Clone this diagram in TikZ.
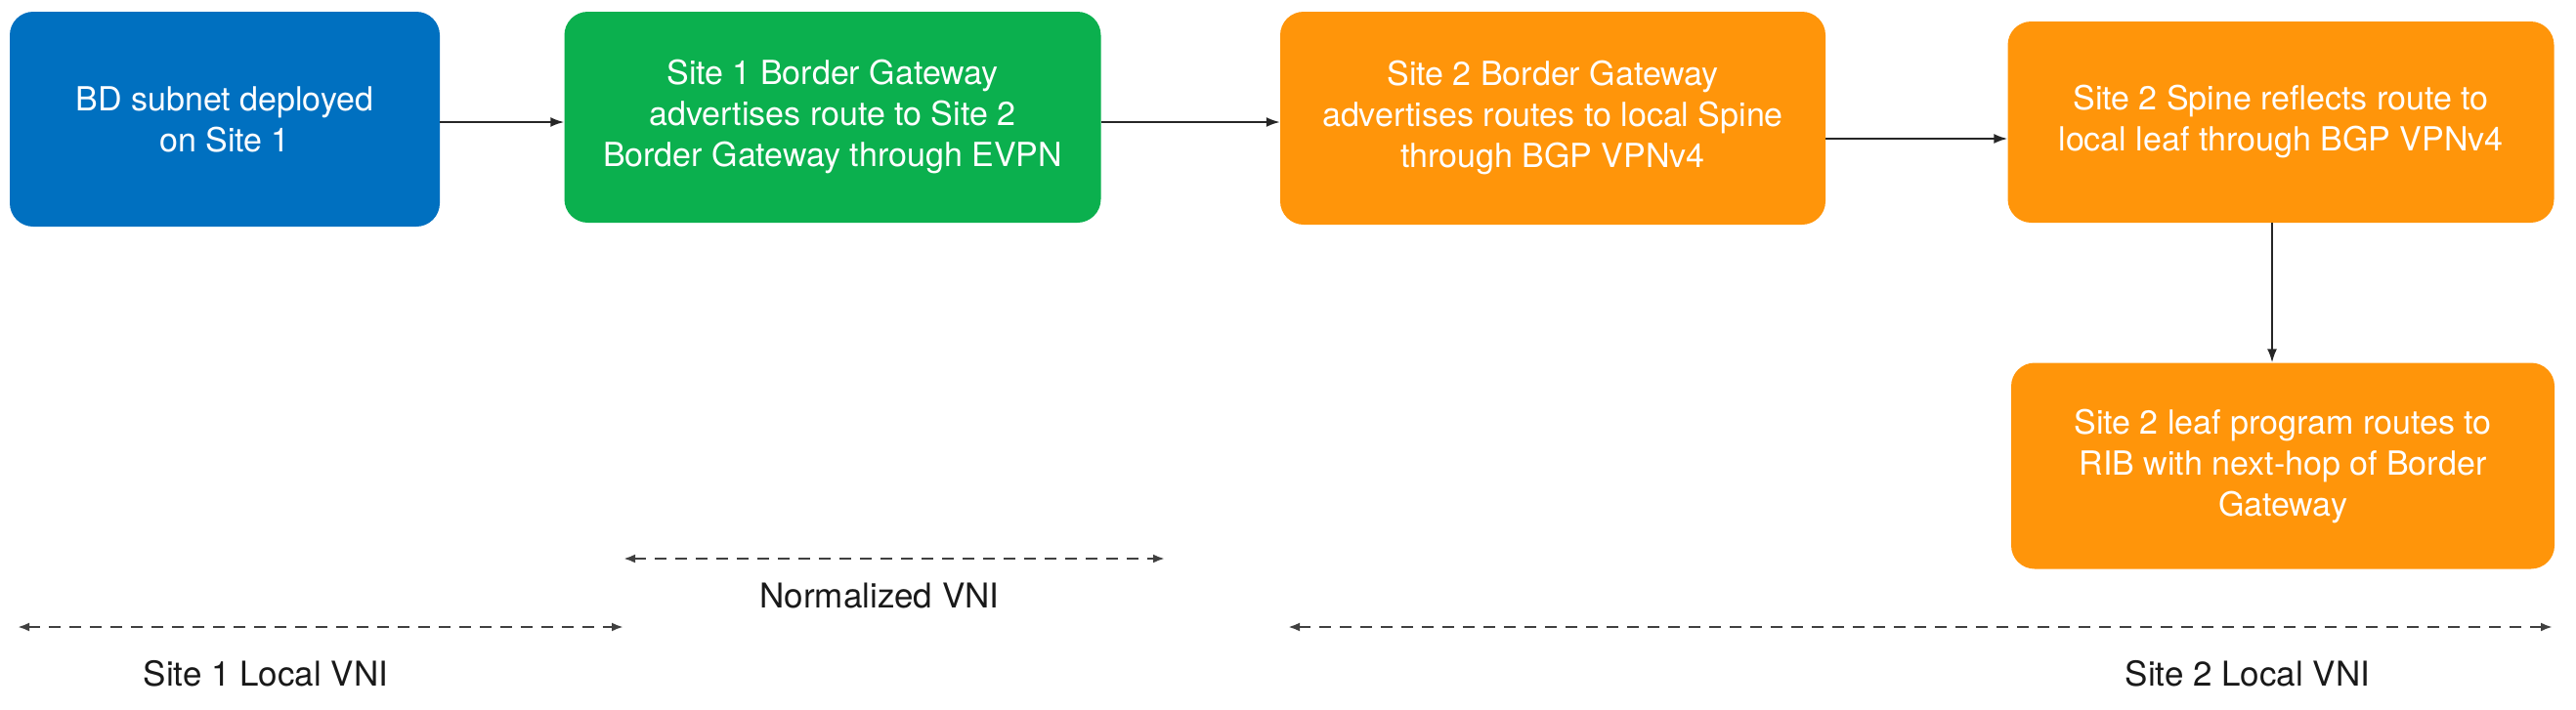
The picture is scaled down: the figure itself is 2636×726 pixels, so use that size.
\documentclass[tikz,border=0pt]{standalone}
\usepackage{fontspec}
\setmainfont{TeX Gyre Heros}
\usetikzlibrary{arrows.meta}
\definecolor{cblue}{RGB}{0,112,192}
\definecolor{cgreen}{RGB}{11,176,78}
\definecolor{corange}{RGB}{255,149,10}
\begin{document}
\begin{tikzpicture}[x=1pt,y=-1pt,
  box/.style={rounded corners=24pt,text=white,align=center,font=\fontsize{34}{42}\selectfont,inner sep=0pt},
  flow/.style={-{Latex[length=14pt,width=10pt]},line width=2pt,draw=black!85},
  span/.style={{Latex[length=12pt,width=9pt]}-{Latex[length=12pt,width=9pt]},dashed,dash pattern=on 12pt off 9pt,line width=2.5pt,draw=black!75},
  lbl/.style={font=\fontsize{35}{40}\selectfont,text=black!90}]
\useasboundingbox (0,0) rectangle (2636,726);
\node[box,fill=cblue,minimum width=440pt,minimum height=220pt] (b1) at (230,122) {BD subnet deployed\\on Site 1};
\node[box,fill=cgreen,minimum width=549pt,minimum height=216pt] (b2) at (852,120) {Site 1 Border Gateway\\advertises route to Site 2\\Border Gateway through EVPN};
\node[box,fill=corange,minimum width=558pt,minimum height=218pt] (b3) at (1589,121) {Site 2 Border Gateway\\advertises routes to local Spine\\through BGP VPNv4};
\node[box,fill=corange,minimum width=559pt,minimum height=206pt] (b4) at (2334,125) {Site 2 Spine reflects route to\\local leaf through BGP VPNv4};
\node[box,fill=corange,minimum width=556pt,minimum height=211pt] (b5) at (2336,477) {Site 2 leaf program routes to\\RIB with next-hop of Border\\Gateway};
\draw[flow] (b1.east |- 0,125) -- (b2.west |- 0,125);
\draw[flow] (b2.east |- 0,125) -- (b3.west |- 0,125);
\draw[flow] (b3.east |- 0,142) -- (b4.west |- 0,142);
\draw[flow] (b4.south -| 2325,0) -- (b5.north -| 2325,0);
\coordinate (n1) at (638,572); \coordinate (n2) at (1192,572);
\coordinate (s1) at (18,642); \coordinate (s2) at (638,642);
\coordinate (t1) at (1318,642); \coordinate (t2) at (2612,642);
\draw[span] (n1) -- (n2);
\draw[span] (s1) -- (s2);
\draw[span] (t1) -- (t2);
\node[lbl] (ln) at (900,610) {Normalized VNI};
\node[lbl] (ls) at (272,690) {Site 1 Local VNI};
\node[lbl] (lt) at (2300,690) {Site 2 Local VNI};
\end{tikzpicture}
\end{document}
